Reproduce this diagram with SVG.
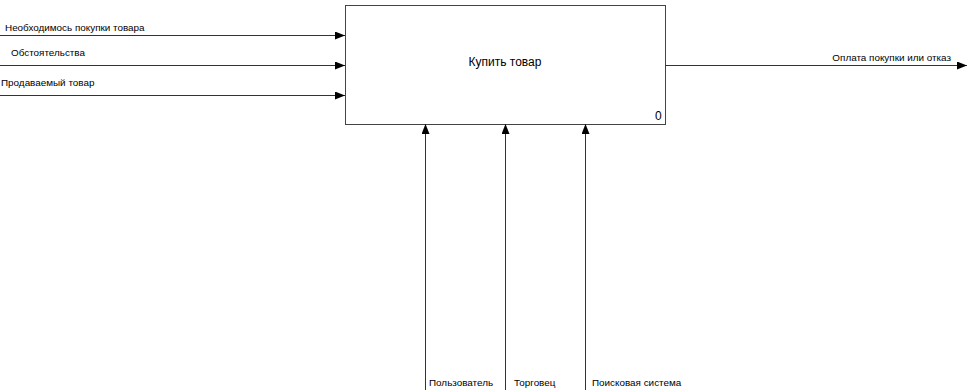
<svg xmlns="http://www.w3.org/2000/svg" width="968" height="390" viewBox="0 0 968 390">
<style>
.ln{stroke:#333;stroke-width:1;fill:none}
.t{font-family:"Liberation Sans",Arial,sans-serif;font-size:9.9px;fill:#000}
.tb{font-family:"Liberation Sans",Arial,sans-serif;font-size:12px;fill:#000}
</style>
<defs>
<marker id="ah" viewBox="0 0 10 8" refX="10" refY="4" markerWidth="10" markerHeight="8" markerUnits="userSpaceOnUse" orient="auto">
<path d="M0,0 L10,4 L0,8 Z" fill="#000"/>
</marker>
</defs>
<rect width="968" height="390" fill="#fff"/>
<g id="node-0">
<rect x="345.5" y="5.5" width="320" height="119" fill="#fff" stroke="#444" stroke-width="1"/>
<text class="tb" x="505" y="66" text-anchor="middle">Купить товар</text>
<text class="tb" x="655" y="120">0</text>
</g>
<g id="connectors">
<line class="ln" x1="0" y1="35.5" x2="345" y2="35.5" marker-end="url(#ah)"/>
<line class="ln" x1="0" y1="65.5" x2="345" y2="65.5" marker-end="url(#ah)"/>
<line class="ln" x1="0" y1="95.5" x2="345" y2="95.5" marker-end="url(#ah)"/>
<line class="ln" x1="665" y1="65.5" x2="967" y2="65.5" marker-end="url(#ah)"/>
<line class="ln" x1="425.5" y1="390" x2="425.5" y2="124" marker-end="url(#ah)"/>
<line class="ln" x1="505.5" y1="390" x2="505.5" y2="124" marker-end="url(#ah)"/>
<line class="ln" x1="585.5" y1="390" x2="585.5" y2="124" marker-end="url(#ah)"/>
<text class="t" x="5" y="31">Необходимось покупки товара</text>
<text class="t" x="11" y="56">Обстоятельства</text>
<text class="t" x="1" y="86">Продаваемый товар</text>
<text class="t" x="951" y="61" text-anchor="end">Оплата покупки или отказ</text>
<text class="t" x="429" y="386">Пользователь</text>
<text class="t" x="514" y="386">Торговец</text>
<text class="t" x="592" y="386">Поисковая система</text>
</g>
</svg>
